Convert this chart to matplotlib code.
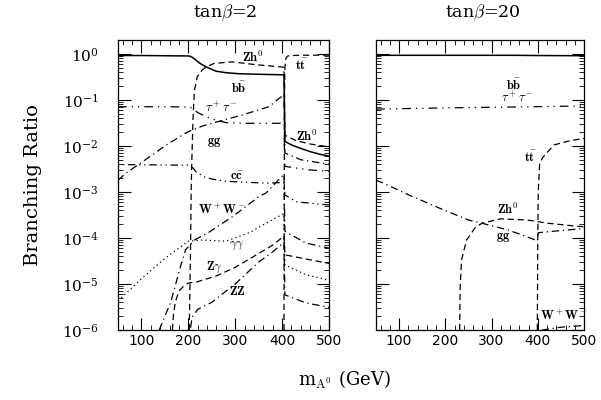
import matplotlib
matplotlib.use("Agg")
from matplotlib import pyplot as plt
from matplotlib.ticker import LogLocator, MultipleLocator, LogFormatterMathtext, NullFormatter

plt.rcParams['font.family'] = ['DejaVu Serif']
plt.rcParams['mathtext.fontset'] = 'cm'

# ---- tan(beta) = 2 ----
bb2_m = [50, 100, 150, 200, 205, 210, 217, 225, 238, 259, 280, 308, 350, 404, 406, 420, 440, 460, 480, 500]
bb2_br = [0.92, 0.92, 0.91, 0.9, 0.88, 0.82, 0.72, 0.62, 0.52, 0.42, 0.39, 0.37, 0.36, 0.35,
          0.0125, 0.0105, 0.0088, 0.0075, 0.0066, 0.006]

zh2_m = [202, 203.5, 205, 206, 207.5, 210, 213, 219, 230, 238, 255, 294, 345, 398, 404, 406, 430, 460, 500]
zh2_br = [1e-6, 1e-5, 1e-4, 1e-3, 5e-3, 0.04, 0.16, 0.32, 0.45, 0.52, 0.62, 0.67, 0.58, 0.52, 0.51,
          0.017, 0.013, 0.011, 0.0095]

tt2_m = [404, 404.5, 405, 406, 408, 412, 430, 500]
tt2_br = [1e-6, 1e-3, 0.1, 0.5, 0.8, 0.9, 0.93, 0.94]

tau2_m = [50, 100, 150, 200, 205, 210, 220, 238, 260, 281, 320, 360, 404, 406, 430, 460, 500]
tau2_br = [0.071, 0.071, 0.071, 0.07, 0.068, 0.063, 0.053, 0.043, 0.036, 0.032, 0.031, 0.031, 0.031,
           0.0036, 0.0033, 0.003, 0.0028]

gg2_m = [50, 68, 102, 153, 198, 230, 260, 315, 372, 398, 404, 406, 440, 500]
gg2_br = [1.8e-3, 2.6e-3, 4.5e-3, 0.0105, 0.02, 0.027, 0.033, 0.047, 0.071, 0.117, 0.13,
          0.007, 0.005, 0.004]

cc2_m = [50, 100, 150, 200, 205, 210, 217, 235, 251, 280, 308, 366, 398, 404, 406, 430, 500]
cc2_br = [3.9e-3, 3.9e-3, 3.85e-3, 3.8e-3, 3.6e-3, 3.3e-3, 2.7e-3, 2.1e-3, 1.9e-3, 1.7e-3, 1.65e-3,
          1.55e-3, 1.6e-3, 1.6e-3, 8.6e-4, 6.1e-4, 5.2e-4]

ww2_m = [138, 150, 162, 172, 181, 194, 213, 245, 294, 308, 351, 366, 398, 404, 406, 450, 500]
ww2_br = [1e-6, 2e-6, 3.9e-6, 9e-6, 2e-5, 5.5e-5, 9e-5, 1.35e-4, 2.9e-4, 3.7e-4, 8e-4, 9.5e-4,
          2.1e-3, 2.4e-3, 1.4e-4, 7.8e-5, 6e-5]

aa2_m = [50, 100, 150, 200, 230, 280, 330, 366, 404, 406, 450, 500]
aa2_br = [4.3e-6, 1.3e-5, 3.6e-5, 8.5e-5, 9e-5, 8.5e-5, 1.3e-4, 2.1e-4, 3.4e-4, 2.6e-5, 1.6e-5, 1.2e-5]

za2_m = [166, 168, 172, 180, 190, 200, 217, 260, 300, 340, 380, 404, 406, 450, 500]
za2_br = [1e-6, 2e-6, 4e-6, 7e-6, 9e-6, 1.05e-5, 1.1e-5, 1.5e-5, 2.3e-5, 4e-5, 7e-5, 1.1e-4,
          4.3e-5, 3.5e-5, 2.8e-5]

zz2_m = [200, 208, 220, 250, 300, 350, 380, 404, 406, 450, 500]
zz2_br = [5e-7, 1.9e-6, 2.8e-6, 4e-6, 1e-5, 3e-5, 5e-5, 8e-5, 5.8e-6, 3.9e-6, 3.1e-6]

# ---- tan(beta) = 20 ----
bb20_m = [50, 150, 250, 350, 400, 500]
bb20_br = [0.93, 0.93, 0.93, 0.93, 0.92, 0.91]

tau20_m = [50, 200, 350, 500]
tau20_br = [0.063, 0.067, 0.07, 0.074]

tt20_m = [399, 400, 401, 404, 410, 435, 470, 500]
tt20_br = [1e-6, 1e-4, 1e-3, 4e-3, 5.5e-3, 1.05e-2, 1.3e-2, 1.45e-2]

zh20_m = [231, 232, 235, 246, 265, 280, 320, 378, 420, 484, 500]
zh20_br = [1e-6, 8e-6, 3.3e-5, 9e-5, 1.7e-4, 2.1e-4, 2.6e-4, 2.45e-4, 2.1e-4, 1.8e-4, 1.75e-4]

gg20_m = [50, 63, 122, 186, 250, 278, 335, 378, 395, 399, 401, 450, 500]
gg20_br = [1.8e-3, 1.6e-3, 8.5e-4, 4.5e-4, 2.45e-4, 2.1e-4, 1.5e-4, 1.05e-4, 9e-5, 8.5e-5,
           1.3e-4, 1.45e-4, 1.6e-4]

ww20_m = [380, 410, 450, 500]
ww20_br = [6e-7, 1.0e-6, 1.15e-6, 1.25e-6]

# line styles
solid = '-'
dashed = (0, (5, 3))
dashdot = (0, (6, 3, 1, 3))
dashdotdot = (0, (7, 4, 1, 4, 1, 4))
dotted = (0, (1, 2.5))
ccstyle = (0, (1, 3, 1, 3, 6, 3))

fig = plt.figure(figsize=(6.01, 4.0), dpi=100)
ax1 = fig.add_axes([118 / 601, 0.175, 211 / 601, 0.725])
ax2 = fig.add_axes([376 / 601, 0.175, 208 / 601, 0.725])

lw = 0.9
ax1.plot(bb2_m, bb2_br, color='black', ls=solid, lw=1.1)
ax1.plot(zh2_m, zh2_br, color='black', ls=dashed, lw=lw)
ax1.plot(tt2_m, tt2_br, color='black', ls=dashed, lw=lw)
ax1.plot(tau2_m, tau2_br, color='black', ls=dashdotdot, lw=lw)
ax1.plot(gg2_m, gg2_br, color='black', ls=dashdot, lw=lw)
ax1.plot(cc2_m, cc2_br, color='black', ls=ccstyle, lw=lw)
ax1.plot(ww2_m, ww2_br, color='black', ls=dashdot, lw=lw)
ax1.plot(aa2_m, aa2_br, color='black', ls=dotted, lw=lw)
ax1.plot(za2_m, za2_br, color='black', ls=dashed, lw=lw)
ax1.plot(zz2_m, zz2_br, color='black', ls=dashdot, lw=lw)

ax2.plot(bb20_m, bb20_br, color='black', ls=solid, lw=1.1)
ax2.plot(tau20_m, tau20_br, color='black', ls=dashdotdot, lw=lw)
ax2.plot(tt20_m, tt20_br, color='black', ls=dashed, lw=lw)
ax2.plot(zh20_m, zh20_br, color='black', ls=dashed, lw=lw)
ax2.plot(gg20_m, gg20_br, color='black', ls=dashdot, lw=lw)
ax2.plot(ww20_m, ww20_br, color='black', ls=dashdot, lw=lw)

lab = dict(fontsize=9, ha='center', va='center')
ax1.text(336, 0.82, r'$\mathbf{Zh^0}$', **lab)
ax1.text(308, 0.19, r'$\mathbf{b\bar{b}}$', **lab)
ax1.text(270, 0.067, r'$\tau^+\tau^-$', **lab)
ax1.text(255, 0.0117, r'$\mathbf{gg}$', **lab)
ax1.text(304, 2.3e-3, r'$\mathbf{c\bar{c}}$', **lab)
ax1.text(270, 4.1e-4, r'$\mathbf{W^+W^-}$', **lab)
ax1.text(304, 7e-5, r'$\gamma\gamma$', **lab)
ax1.text(255, 2.3e-5, r'$\mathbf{Z}\gamma$', **lab)
ax1.text(304, 6.7e-6, r'$\mathbf{ZZ}$', **lab)
ax1.text(440, 0.58, r'$\mathbf{t\bar{t}}$', **lab)
ax1.text(453, 0.016, r'$\mathbf{Zh^0}$', **lab)

ax2.text(348, 0.22, r'$\mathbf{b\bar{b}}$', **lab)
ax2.text(356, 0.11, r'$\tau^+\tau^-$', **lab)
ax2.text(384, 6e-3, r'$\mathbf{t\bar{t}}$', **lab)
ax2.text(335, 4.1e-4, r'$\mathbf{Zh^0}$', **lab)
ax2.text(324, 1e-4, r'$\mathbf{gg}$', **lab)
ax2.text(456, 2e-6, r'$\mathbf{W^+W^-}$', **lab)

for ax in (ax1, ax2):
    ax.set_yscale('log')
    ax.set_xlim(50, 500)
    ax.set_ylim(1e-6, 2.0)
    ax.xaxis.set_major_locator(MultipleLocator(100))
    ax.xaxis.set_minor_locator(MultipleLocator(20))
    ax.yaxis.set_major_locator(LogLocator(base=10, numticks=10))
    ax.yaxis.set_minor_locator(LogLocator(base=10, subs=range(2, 10), numticks=20))
    ax.yaxis.set_minor_formatter(NullFormatter())
    ax.tick_params(which='major', direction='in', length=9, width=0.8,
                   top=True, right=True)
    ax.tick_params(which='minor', direction='in', length=3.5, width=0.6,
                   top=True, right=True)
    ax.tick_params(axis='x', which='major', pad=3, labelsize=10)
    for t in ax.get_xticklabels():
        t.set_fontfamily('DejaVu Sans')
    for s in ax.spines.values():
        s.set_linewidth(0.9)

ax1.yaxis.set_major_formatter(LogFormatterMathtext())
ax1.tick_params(axis='y', which='major', pad=14, labelsize=11)
ax2.yaxis.set_major_formatter(NullFormatter())

ax1.set_ylabel('Branching Ratio', fontsize=14, labelpad=14)
fig.text(225 / 601, 1 - 13 / 400, r'tan$\beta$=2', ha='center', va='center', fontsize=12.5)
fig.text(483 / 601, 1 - 13 / 400, r'tan$\beta$=20', ha='center', va='center', fontsize=12.5)
fig.text(344 / 601, 1 - 380 / 400, r'm$_{\mathrm{A}^0}$ (GeV)', ha='center', va='center', fontsize=13)

fig.savefig('out.png', dpi=100)
